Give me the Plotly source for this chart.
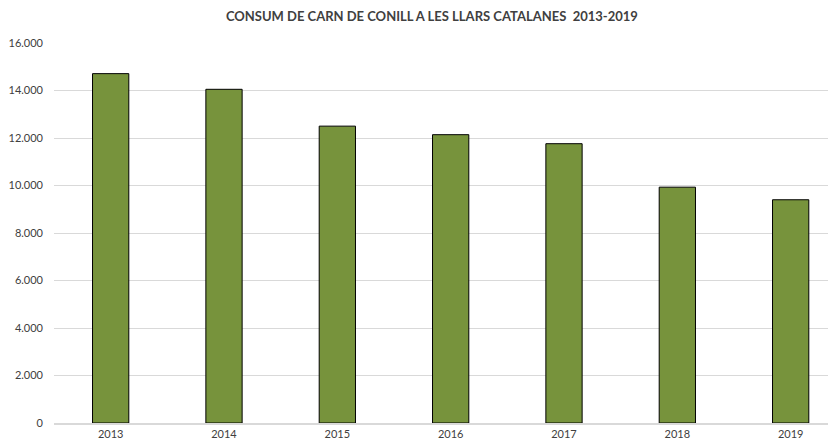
import plotly.graph_objs as go

# consum de carn de conill (llars catalanes)
years = ['2013', '2014', '2015', '2016', '2017', '2018', '2019']
consum = [14710, 14050, 12500, 12140, 11760, 9930, 9400]
y_ticks = [0, 2000, 4000, 6000, 8000, 10000, 12000, 14000, 16000]

fig = go.Figure()

fig.add_trace(go.Bar(x=years,
                     y=consum,
                     width=0.32,
                     marker=dict(color='#77933C', line=dict(color='black', width=1)),
                     hoverinfo='x+y'
                     )
              )

# the page body adds an 8px offset, margins are shifted to compensate
fig.update_layout(
    width=836, height=445,
    margin=dict(l=46, r=8, t=35, b=30),
    paper_bgcolor='white',
    plot_bgcolor='white',
    separators=',.',
    showlegend=False,
    font=dict(family='Lato, Open Sans, sans-serif', size=11, color='#595959'),
    title=dict(text='<b>CONSUM DE CARN DE CONILL A LES LLARS CATALANES  2013-2019</b>',
               x=0.507, xref='container', xanchor='center',
               y=0.98, yref='container', yanchor='middle',
               font=dict(family='Lato, Open Sans, sans-serif', size=13, color='#404040')),
    xaxis=dict(type='category', range=[-0.5, 6.4], showgrid=False,
               showline=True, linecolor='#d9d9d9', linewidth=2,
               ticks='', automargin=False, tickfont=dict(size=11, color='#404040')),
    yaxis=dict(range=[0, 16000], tickvals=y_ticks, tickformat=',d',
               showgrid=True, gridcolor='#d9d9d9', gridwidth=1,
               zeroline=False, ticks='', ticklabelstandoff=10, automargin=False,
               tickfont=dict(size=11, color='#404040')),
)

fig.write_html("out.html")
